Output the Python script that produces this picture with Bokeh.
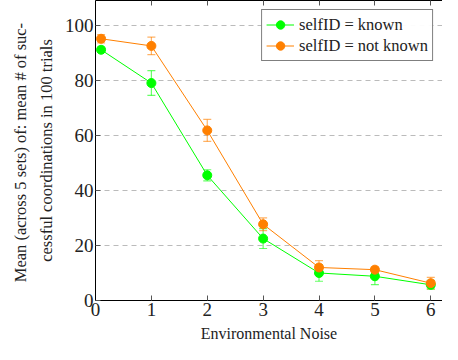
from bokeh.plotting import figure
from bokeh.models import ColumnDataSource, Whisker, TeeHead, LinearAxis, Range1d, FixedTicker, Legend, LegendItem
from bokeh.embed import file_html
from bokeh.resources import INLINE

noise = [0.1, 1, 2, 3, 4, 5, 6]
known = [91.1, 79.0, 45.5, 22.5, 10.0, 8.8, 5.7]
known_err = [1.0, 4.5, 2.0, 3.6, 3.0, 3.0, 1.6]
not_known = [95.1, 92.5, 61.8, 27.7, 12.0, 11.2, 6.3]
not_known_err = [1.5, 3.2, 4.0, 2.3, 2.5, 1.0, 2.1]
x_ticks = [0, 1, 2, 3, 4, 5, 6]
y_ticks = [0, 20, 40, 60, 80, 100]

GREEN = "#00ff00"
ORANGE = "#ff8000"
FONT = "Liberation Serif"

p = figure(width=442, height=344, output_backend="svg", toolbar_location=None,
           x_range=Range1d(0, 6.21), y_range=Range1d(0, 109),
           min_border_left=95, min_border_right=0, min_border_top=0, min_border_bottom=0)
p.outline_line_color = None
p.background_fill_color = "white"

def mk_src(y, e):
    return ColumnDataSource(dict(x=noise, y=y, lo=[a - b for a, b in zip(y, e)], hi=[a + b for a, b in zip(y, e)]))

s1 = mk_src(known, known_err)
s2 = mk_src(not_known, not_known_err)

for s, c in ((s1, GREEN), (s2, ORANGE)):
    w = Whisker(source=s, base="x", upper="hi", lower="lo", line_color=c, line_alpha=0.6, line_width=1.2,
                upper_head=TeeHead(size=8, line_color=c, line_alpha=0.6, line_width=1.2),
                lower_head=TeeHead(size=8, line_color=c, line_alpha=0.6, line_width=1.2))
    p.add_layout(w)

l1 = p.line("x", "y", source=s1, line_color=GREEN, line_width=1)
c1 = p.scatter("x", "y", source=s1, size=9, fill_color=GREEN, line_color=GREEN)
l2 = p.line("x", "y", source=s2, line_color=ORANGE, line_width=1)
c2 = p.scatter("x", "y", source=s2, size=9, fill_color=ORANGE, line_color=ORANGE)

p.xgrid.grid_line_color = None
p.ygrid.grid_line_color = "#bbbbbb"
p.ygrid.grid_line_dash = "5 4"
p.ygrid.ticker = FixedTicker(ticks=y_ticks)

for ax in (p.xaxis[0], p.yaxis[0]):
    ax.major_tick_in = 5
    ax.major_tick_out = 0
    ax.minor_tick_line_color = None
    ax.axis_line_color = "black"
    ax.axis_line_width = 1
    ax.major_tick_line_color = "#555555"
    ax.major_label_text_font = FONT
    ax.major_label_text_font_size = "19px"
    ax.major_label_text_color = "#222222"
    ax.axis_label_text_font = FONT
    ax.axis_label_text_font_size = "16px"
    ax.axis_label_text_font_style = "normal"
    ax.axis_label_text_color = "#222222"

p.xaxis[0].ticker = FixedTicker(ticks=x_ticks)
p.yaxis[0].ticker = FixedTicker(ticks=y_ticks)
p.xaxis[0].axis_label = "Environmental Noise"
p.xaxis[0].major_label_standoff = 2
p.xaxis[0].axis_label_standoff = 6
p.yaxis[0].axis_label = "Mean (across 5 sets) of:  mean # of suc-\ncessful coordinations in 100 trials"
p.yaxis[0].axis_label_text_font_size = "16.5px"
p.yaxis[0].axis_label_text_line_height = 1.35
p.yaxis[0].major_label_standoff = 2
p.yaxis[0].axis_label_standoff = 6

top = LinearAxis(ticker=FixedTicker(ticks=x_ticks), major_label_overrides={t: " " for t in x_ticks},
                 major_label_text_font_size="2px", major_label_text_color=None,
                 major_tick_in=5, major_tick_out=0, minor_tick_line_color=None,
                 axis_line_color="black", major_tick_line_color="#555555", major_label_standoff=0)
p.add_layout(top, "above")

legend = Legend(items=[LegendItem(label="selfID = known", renderers=[l1, c1]),
                       LegendItem(label="selfID = not known", renderers=[l2, c2])],
                location="top_right")
legend.label_text_font = FONT
legend.label_text_font_size = "16.5px"
legend.label_text_color = "#222222"
legend.border_line_color = "black"
legend.border_line_width = 1
legend.margin = 9
legend.padding = 4
legend.spacing = 0
legend.glyph_width = 28
legend.label_height = 21
legend.glyph_height = 21
p.add_layout(legend)

open("out.html", "w").write(file_html(p, INLINE))
